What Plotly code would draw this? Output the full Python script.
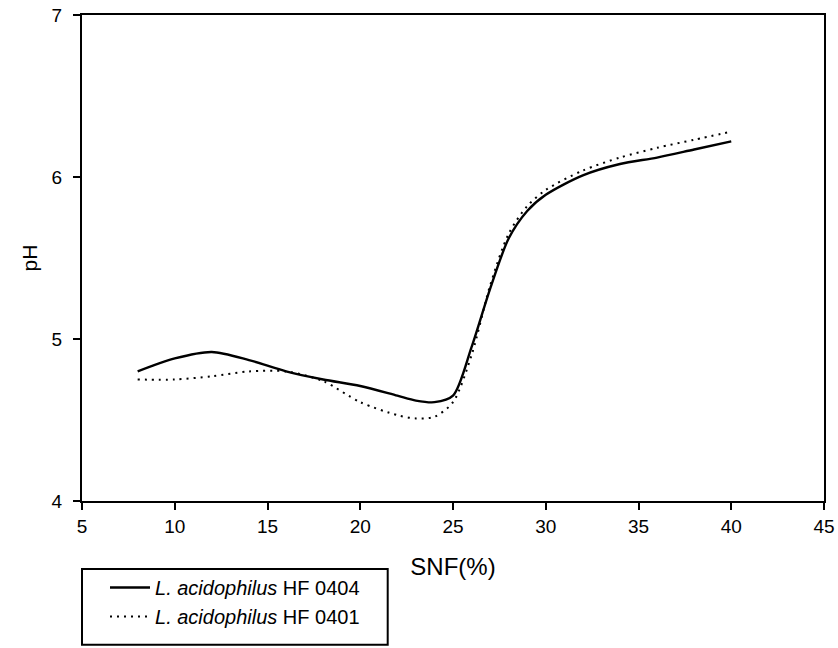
import plotly.graph_objects as go

snf = [8, 10, 12, 14, 16, 18, 20, 22, 23, 24, 25, 26, 27, 28, 29, 30, 32, 34, 36, 38, 40]
ph_0404 = [4.80, 4.88, 4.92, 4.87, 4.80, 4.75, 4.71, 4.65, 4.62, 4.61, 4.65, 4.95, 5.31, 5.62, 5.79, 5.89, 6.01, 6.08, 6.12, 6.17, 6.22]
ph_0401 = [4.75, 4.75, 4.77, 4.80, 4.80, 4.74, 4.61, 4.53, 4.51, 4.52, 4.61, 4.90, 5.33, 5.65, 5.82, 5.92, 6.04, 6.12, 6.18, 6.23, 6.28]

x_ticks = [5, 10, 15, 20, 25, 30, 35, 40, 45]
y_ticks = [4, 5, 6, 7]

FONT = "Liberation Sans, Arial, sans-serif"

fig = go.Figure()
fig.add_trace(go.Scatter(
    x=snf, y=ph_0404, mode="lines", name="<i>L. acidophilus</i> HF 0404",
    line=dict(color="black", width=2.4, shape="spline", smoothing=0.8),
))
fig.add_trace(go.Scatter(
    x=snf, y=ph_0401, mode="lines", name="<i>L. acidophilus</i> HF 0401",
    line=dict(color="black", width=2, dash="2px,5px", shape="spline", smoothing=0.8),
))

axis_common = dict(
    showline=True, linecolor="black", linewidth=2, mirror=True,
    ticks="outside", ticklen=7, tickwidth=2, tickcolor="black",
    showgrid=False, zeroline=False, automargin=False,
    tickfont=dict(family=FONT, size=19, color="black"),
)

fig.update_layout(
    width=838, height=648,
    margin=dict(l=82, r=14, t=15, b=147),
    paper_bgcolor="white", plot_bgcolor="white",
    font=dict(family=FONT, color="black"),
    xaxis=dict(range=[5, 45], tickvals=x_ticks,
               title=dict(text="SNF(%)", font=dict(family=FONT, size=24), standoff=22),
               **axis_common),
    yaxis=dict(range=[4, 7], tickvals=y_ticks, ticklabelstandoff=7,
               title=dict(text="pH", font=dict(family=FONT, size=21), standoff=8),
               **axis_common),
    showlegend=True,
    legend=dict(
        x=0.031, y=-0.138, xanchor="left", yanchor="top",
        borderwidth=0, bgcolor="rgba(0,0,0,0)",
        font=dict(family=FONT, size=20, color="black"),
        tracegroupgap=0, itemwidth=40,
    ),
    shapes=[dict(type="rect", xref="paper", yref="paper",
                 x0=0.0, x1=0.412, y0=-0.296, y1=-0.14,
                 line=dict(color="black", width=2), fillcolor="rgba(0,0,0,0)")],
)

fig.write_html("out.html")
